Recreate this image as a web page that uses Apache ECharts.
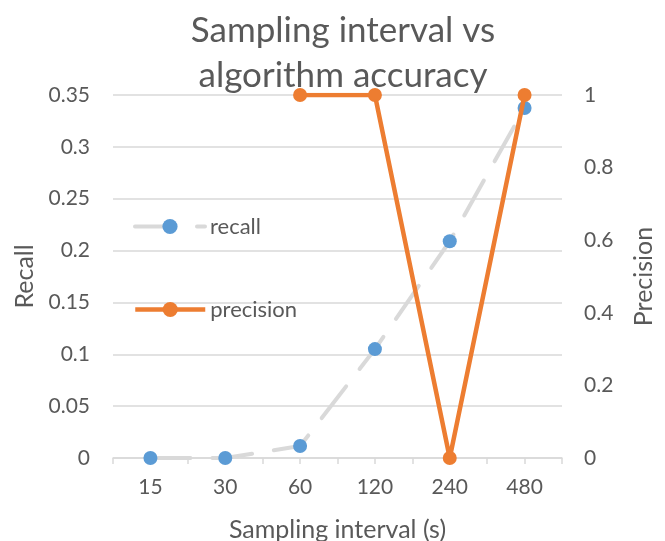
<!DOCTYPE html>
<html>
<head>
<meta charset="utf-8">
<script src="https://cdn.jsdelivr.net/npm/echarts@6/dist/echarts.min.js"></script>
<style>
html,body{margin:0;padding:0;background:#fff;}
#chart{width:665px;height:541px;}
</style>
</head>
<body>
<div id="chart"></div>
<script>
const categories = ['15', '30', '60', '120', '240', '480'];
const recall = [0, 0, 0.0115, 0.105, 0.209, 0.3375];
const precision = [null, null, 1, 1, 0, 1];
const recallTicks = { min: 0, max: 0.35, interval: 0.05 };
const precisionTicks = { min: 0, max: 1, interval: 0.2 };

const FONT = 'Lato';
const TXT = '#595959';
const GRID = '#d9d9d9';

const chart = echarts.init(document.getElementById('chart'));
chart.setOption({
  backgroundColor: '#fff',
  animation: false,
  textStyle: { fontFamily: FONT },
  title: {
    text: 'Sampling interval vs\nalgorithm accuracy',
    left: 343,
    textAlign: 'center',
    top: 8,
    padding: 0,
    textStyle: { fontFamily: FONT, fontSize: 35, fontWeight: 'normal', color: TXT, lineHeight: 45 }
  },
  grid: { left: 113, right: 103, top: 95, bottom: 83, outerBoundsMode: 'none' },
  legend: [
    {
      data: ['recall'], left: 133, top: 215.5, padding: 0, itemWidth: 70, itemHeight: 19, itemGap: 0,
      lineStyle: { width: 4 },
      textStyle: { fontFamily: FONT, fontSize: 22, color: TXT }
    },
    {
      data: ['precision'], left: 133, top: 298.5, padding: 0, itemWidth: 70, itemHeight: 19, itemGap: 0,
      lineStyle: { width: 4.5 },
      textStyle: { fontFamily: FONT, fontSize: 22, color: TXT }
    }
  ],
  xAxis: [
    {
      type: 'category',
      data: categories,
      boundaryGap: true,
      name: 'Sampling interval (s)',
      nameLocation: 'middle',
      nameGap: 59,
      nameTextStyle: { fontFamily: FONT, fontSize: 25, color: TXT },
      axisLine: { lineStyle: { color: GRID, width: 1.5 } },
      axisTick: { show: true, length: 6, lineStyle: { color: GRID, width: 1.5 } },
      axisLabel: { fontFamily: FONT, fontSize: 21, color: TXT, margin: 19 }
    },
    {
      type: 'category',
      data: categories,
      position: 'bottom',
      boundaryGap: true,
      axisLine: { show: false },
      axisTick: {
        show: true, alignWithLabel: true, length: 6,
        interval: function (index) { return index >= 2; },
        lineStyle: { color: GRID, width: 1.5 }
      },
      axisLabel: { show: false },
      splitLine: { show: false }
    }
  ],
  yAxis: [
    {
      type: 'value',
      min: recallTicks.min, max: recallTicks.max, interval: recallTicks.interval,
      name: 'Recall',
      nameLocation: 'middle',
      nameGap: 75,
      nameTextStyle: { fontFamily: FONT, fontSize: 25, color: TXT },
      axisLine: { show: false },
      axisTick: { show: false },
      axisLabel: { fontFamily: FONT, fontSize: 21, color: TXT, margin: 23 },
      splitLine: { lineStyle: { color: GRID, width: 1.5 } }
    },
    {
      type: 'value',
      min: precisionTicks.min, max: precisionTicks.max, interval: precisionTicks.interval,
      name: 'Precision',
      nameLocation: 'middle',
      nameGap: 69,
      nameRotate: 90,
      nameTextStyle: { fontFamily: FONT, fontSize: 25, color: TXT },
      axisLine: { show: false },
      axisTick: { show: false },
      axisLabel: { fontFamily: FONT, fontSize: 21, color: TXT, margin: 22 },
      splitLine: { show: false }
    }
  ],
  series: [
    {
      name: 'recall',
      type: 'line',
      data: recall,
      yAxisIndex: 0,
      symbol: 'circle',
      symbolSize: 14,
      itemStyle: { color: '#5b9bd5' },
      lineStyle: { color: GRID, width: 4, type: [40, 22], cap: 'round' },
      z: 2
    },
    {
      name: 'precision',
      type: 'line',
      data: precision,
      yAxisIndex: 1,
      symbol: 'circle',
      symbolSize: 14,
      itemStyle: { color: '#ed7d31' },
      lineStyle: { color: '#ed7d31', width: 4.5 },
      z: 3
    }
  ]
});
</script>
</body>
</html>
